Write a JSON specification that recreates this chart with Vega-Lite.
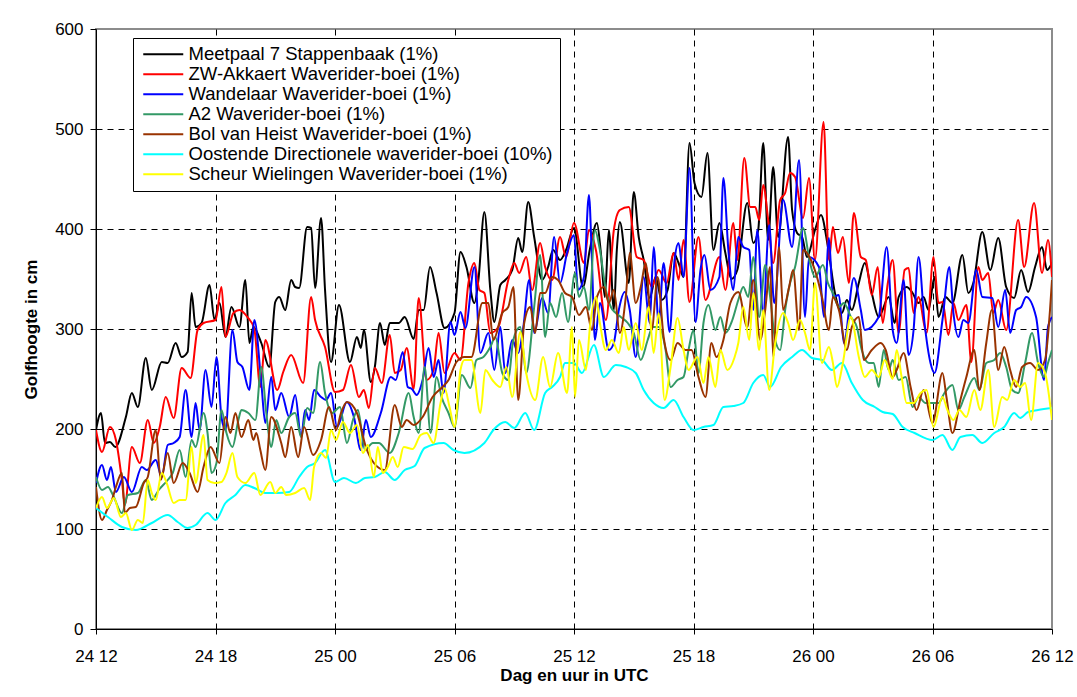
{
"$schema":"https://vega.github.io/schema/vega-lite/v6.json",
"width":956,"height":600,
"autosize":{"type":"none"},
"padding":{"left":96,"top":29,"right":25,"bottom":68},
"background":"white",
"config":{"view":{"stroke":"#8c8c8c","strokeWidth":2},"font":"Liberation Sans"},
"datasets":{"names":[
{"k":"A","name":"Meetpaal 7 Stappenbaak (1%)"},
{"k":"B","name":"ZW-Akkaert Waverider-boei (1%)"},
{"k":"C","name":"Wandelaar Waverider-boei (1%)"},
{"k":"D","name":"A2 Waverider-boei (1%)"},
{"k":"E","name":"Bol van Heist Waverider-boei (1%)"},
{"k":"F","name":"Oostende Directionele waverider-boei (10%)"},
{"k":"G","name":"Scheur Wielingen Waverider-boei (1%)"}
]},
"data":{"values":[
{"k":"A","h":0,"v":199},{"k":"A","h":0.25,"v":216},{"k":"A","h":0.45,"v":186},{"k":"A","h":0.7,"v":187},{"k":"A","h":0.97,"v":182},{"k":"A","h":1.5,"v":212},{"k":"A","h":1.8,"v":236},{"k":"A","h":2.1,"v":222},{"k":"A","h":2.5,"v":271},{"k":"A","h":2.8,"v":239},{"k":"A","h":3.3,"v":267},{"k":"A","h":3.6,"v":266},{"k":"A","h":4.0,"v":286},{"k":"A","h":4.3,"v":272},{"k":"A","h":4.6,"v":277},{"k":"A","h":4.8,"v":336},{"k":"A","h":5.0,"v":302},{"k":"A","h":5.3,"v":306},{"k":"A","h":5.7,"v":344},{"k":"A","h":5.95,"v":309},{"k":"A","h":6.2,"v":326},{"k":"A","h":6.5,"v":292},{"k":"A","h":6.8,"v":322},{"k":"A","h":7.2,"v":302},{"k":"A","h":7.5,"v":349},{"k":"A","h":7.7,"v":286},{"k":"A","h":7.9,"v":302},{"k":"A","h":8.3,"v":286},{"k":"A","h":8.7,"v":262},{"k":"A","h":9.0,"v":327},{"k":"A","h":9.2,"v":332},{"k":"A","h":9.5,"v":319},{"k":"A","h":9.8,"v":349},{"k":"A","h":10.0,"v":342},{"k":"A","h":10.2,"v":341},{"k":"A","h":10.6,"v":402},{"k":"A","h":10.8,"v":401},{"k":"A","h":11.0,"v":341},{"k":"A","h":11.3,"v":411},{"k":"A","h":11.5,"v":339},{"k":"A","h":11.8,"v":267},{"k":"A","h":12.2,"v":324},{"k":"A","h":12.75,"v":267},{"k":"A","h":13.1,"v":292},{"k":"A","h":13.3,"v":281},{"k":"A","h":13.45,"v":299},{"k":"A","h":13.8,"v":247},{"k":"A","h":14.0,"v":262},{"k":"A","h":14.26,"v":306},{"k":"A","h":14.5,"v":284},{"k":"A","h":14.75,"v":306},{"k":"A","h":15.2,"v":306},{"k":"A","h":15.5,"v":312},{"k":"A","h":15.95,"v":290},{"k":"A","h":16.2,"v":319},{"k":"A","h":16.45,"v":319},{"k":"A","h":16.77,"v":362},{"k":"A","h":17.1,"v":336},{"k":"A","h":17.5,"v":301},{"k":"A","h":18.0,"v":316},{"k":"A","h":18.3,"v":377},{"k":"A","h":18.6,"v":362},{"k":"A","h":19.0,"v":326},{"k":"A","h":19.2,"v":349},{"k":"A","h":19.5,"v":417},{"k":"A","h":19.8,"v":339},{"k":"A","h":20.0,"v":307},{"k":"A","h":20.3,"v":344},{"k":"A","h":20.55,"v":349},{"k":"A","h":20.9,"v":359},{"k":"A","h":21.2,"v":391},{"k":"A","h":21.4,"v":377},{"k":"A","h":21.7,"v":427},{"k":"A","h":22.0,"v":392},{"k":"A","h":22.4,"v":349},{"k":"A","h":22.7,"v":362},{"k":"A","h":22.95,"v":379},{"k":"A","h":23.3,"v":369},{"k":"A","h":23.6,"v":379},{"k":"A","h":24.0,"v":401},{"k":"A","h":24.45,"v":342},{"k":"A","h":24.8,"v":380},{"k":"A","h":25.15,"v":406},{"k":"A","h":25.35,"v":376},{"k":"A","h":25.55,"v":332},{"k":"A","h":25.75,"v":399},{"k":"A","h":26.0,"v":319},{"k":"A","h":26.15,"v":379},{"k":"A","h":26.3,"v":407},{"k":"A","h":26.75,"v":346},{"k":"A","h":27.0,"v":437},{"k":"A","h":27.25,"v":392},{"k":"A","h":27.5,"v":369},{"k":"A","h":27.8,"v":331},{"k":"A","h":28.1,"v":352},{"k":"A","h":28.4,"v":329},{"k":"A","h":28.7,"v":339},{"k":"A","h":29.0,"v":376},{"k":"A","h":29.25,"v":366},{"k":"A","h":29.5,"v":352},{"k":"A","h":29.8,"v":486},{"k":"A","h":30.05,"v":446},{"k":"A","h":30.4,"v":432},{"k":"A","h":30.7,"v":476},{"k":"A","h":31.0,"v":379},{"k":"A","h":31.3,"v":406},{"k":"A","h":31.6,"v":376},{"k":"A","h":31.9,"v":350},{"k":"A","h":32.2,"v":359},{"k":"A","h":32.7,"v":426},{"k":"A","h":33.0,"v":386},{"k":"A","h":33.25,"v":399},{"k":"A","h":33.5,"v":486},{"k":"A","h":33.75,"v":389},{"k":"A","h":34.0,"v":462},{"k":"A","h":34.25,"v":392},{"k":"A","h":34.75,"v":492},{"k":"A","h":34.95,"v":419},{"k":"A","h":35.2,"v":396},{"k":"A","h":35.45,"v":392},{"k":"A","h":35.7,"v":372},{"k":"A","h":36.1,"v":399},{"k":"A","h":36.4,"v":414},{"k":"A","h":36.75,"v":382},{"k":"A","h":37.1,"v":336},{"k":"A","h":37.45,"v":316},{"k":"A","h":37.7,"v":329},{"k":"A","h":37.95,"v":319},{"k":"A","h":38.3,"v":346},{"k":"A","h":38.6,"v":366},{"k":"A","h":38.95,"v":336},{"k":"A","h":39.3,"v":312},{"k":"A","h":39.8,"v":332},{"k":"A","h":40.1,"v":306},{"k":"A","h":40.3,"v":332},{"k":"A","h":40.7,"v":342},{"k":"A","h":41.0,"v":336},{"k":"A","h":41.3,"v":326},{"k":"A","h":41.55,"v":332},{"k":"A","h":41.8,"v":319},{"k":"A","h":42.1,"v":352},{"k":"A","h":42.3,"v":312},{"k":"A","h":42.65,"v":332},{"k":"A","h":43.0,"v":326},{"k":"A","h":43.5,"v":374},{"k":"A","h":43.8,"v":336},{"k":"A","h":44.05,"v":346},{"k":"A","h":44.5,"v":397},{"k":"A","h":44.9,"v":359},{"k":"A","h":45.3,"v":391},{"k":"A","h":45.7,"v":342},{"k":"A","h":46.1,"v":331},{"k":"A","h":46.45,"v":359},{"k":"A","h":46.8,"v":337},{"k":"A","h":47.15,"v":362},{"k":"A","h":47.5,"v":382},{"k":"A","h":47.75,"v":359},{"k":"A","h":48.0,"v":366},
{"k":"B","h":0,"v":199},{"k":"B","h":0.3,"v":177},{"k":"B","h":0.7,"v":202},{"k":"B","h":1.0,"v":189},{"k":"B","h":1.3,"v":149},{"k":"B","h":1.45,"v":124},{"k":"B","h":1.8,"v":182},{"k":"B","h":2.2,"v":166},{"k":"B","h":2.6,"v":209},{"k":"B","h":2.9,"v":186},{"k":"B","h":3.2,"v":202},{"k":"B","h":3.5,"v":232},{"k":"B","h":3.9,"v":211},{"k":"B","h":4.3,"v":261},{"k":"B","h":4.75,"v":251},{"k":"B","h":5.1,"v":299},{"k":"B","h":5.4,"v":306},{"k":"B","h":6.0,"v":309},{"k":"B","h":6.3,"v":342},{"k":"B","h":6.5,"v":292},{"k":"B","h":6.9,"v":316},{"k":"B","h":7.2,"v":319},{"k":"B","h":7.6,"v":312},{"k":"B","h":7.95,"v":300},{"k":"B","h":8.25,"v":242},{"k":"B","h":8.5,"v":289},{"k":"B","h":9.1,"v":239},{"k":"B","h":9.4,"v":257},{"k":"B","h":9.8,"v":274},{"k":"B","h":10.4,"v":246},{"k":"B","h":10.8,"v":332},{"k":"B","h":11.0,"v":309},{"k":"B","h":11.5,"v":282},{"k":"B","h":12.0,"v":237},{"k":"B","h":12.4,"v":239},{"k":"B","h":12.8,"v":264},{"k":"B","h":13.2,"v":232},{"k":"B","h":13.45,"v":239},{"k":"B","h":13.7,"v":221},{"k":"B","h":14.0,"v":261},{"k":"B","h":14.35,"v":246},{"k":"B","h":14.75,"v":294},{"k":"B","h":15.0,"v":256},{"k":"B","h":15.3,"v":259},{"k":"B","h":15.6,"v":281},{"k":"B","h":15.95,"v":240},{"k":"B","h":16.2,"v":331},{"k":"B","h":16.6,"v":249},{"k":"B","h":16.95,"v":259},{"k":"B","h":17.2,"v":296},{"k":"B","h":17.5,"v":256},{"k":"B","h":18.0,"v":276},{"k":"B","h":18.3,"v":269},{"k":"B","h":18.7,"v":346},{"k":"B","h":19.0,"v":366},{"k":"B","h":19.25,"v":339},{"k":"B","h":19.5,"v":336},{"k":"B","h":19.8,"v":296},{"k":"B","h":20.2,"v":302},{"k":"B","h":20.7,"v":349},{"k":"B","h":21.0,"v":366},{"k":"B","h":21.25,"v":356},{"k":"B","h":21.6,"v":372},{"k":"B","h":21.9,"v":339},{"k":"B","h":22.3,"v":386},{"k":"B","h":22.55,"v":362},{"k":"B","h":22.9,"v":349},{"k":"B","h":23.3,"v":392},{"k":"B","h":23.6,"v":372},{"k":"B","h":24.0,"v":406},{"k":"B","h":24.5,"v":366},{"k":"B","h":24.75,"v":399},{"k":"B","h":25.1,"v":379},{"k":"B","h":25.6,"v":309},{"k":"B","h":26.0,"v":399},{"k":"B","h":26.3,"v":419},{"k":"B","h":26.75,"v":422},{"k":"B","h":27.15,"v":372},{"k":"B","h":27.5,"v":369},{"k":"B","h":27.9,"v":342},{"k":"B","h":28.25,"v":359},{"k":"B","h":28.65,"v":346},{"k":"B","h":29.0,"v":376},{"k":"B","h":29.25,"v":349},{"k":"B","h":29.5,"v":389},{"k":"B","h":29.8,"v":327},{"k":"B","h":30.25,"v":392},{"k":"B","h":30.6,"v":329},{"k":"B","h":31.3,"v":372},{"k":"B","h":31.6,"v":339},{"k":"B","h":32.0,"v":406},{"k":"B","h":32.2,"v":369},{"k":"B","h":32.55,"v":471},{"k":"B","h":32.85,"v":422},{"k":"B","h":33.1,"v":422},{"k":"B","h":33.3,"v":409},{"k":"B","h":33.5,"v":444},{"k":"B","h":33.75,"v":409},{"k":"B","h":34.0,"v":366},{"k":"B","h":34.35,"v":429},{"k":"B","h":34.6,"v":436},{"k":"B","h":34.85,"v":456},{"k":"B","h":35.1,"v":452},{"k":"B","h":35.5,"v":411},{"k":"B","h":35.8,"v":451},{"k":"B","h":36.1,"v":369},{"k":"B","h":36.53,"v":507},{"k":"B","h":36.8,"v":369},{"k":"B","h":37.0,"v":402},{"k":"B","h":37.25,"v":376},{"k":"B","h":37.5,"v":392},{"k":"B","h":37.8,"v":346},{"k":"B","h":38.05,"v":416},{"k":"B","h":38.4,"v":372},{"k":"B","h":38.65,"v":369},{"k":"B","h":38.95,"v":334},{"k":"B","h":39.25,"v":362},{"k":"B","h":39.5,"v":306},{"k":"B","h":39.75,"v":345},{"k":"B","h":40.0,"v":369},{"k":"B","h":40.3,"v":296},{"k":"B","h":40.6,"v":359},{"k":"B","h":40.8,"v":361},{"k":"B","h":41.05,"v":316},{"k":"B","h":41.3,"v":332},{"k":"B","h":41.7,"v":296},{"k":"B","h":42.05,"v":372},{"k":"B","h":42.3,"v":326},{"k":"B","h":42.5,"v":327},{"k":"B","h":42.8,"v":294},{"k":"B","h":43.05,"v":326},{"k":"B","h":43.3,"v":309},{"k":"B","h":43.7,"v":324},{"k":"B","h":43.95,"v":267},{"k":"B","h":44.3,"v":362},{"k":"B","h":44.5,"v":349},{"k":"B","h":44.8,"v":356},{"k":"B","h":45.05,"v":316},{"k":"B","h":45.3,"v":329},{"k":"B","h":45.7,"v":299},{"k":"B","h":46.3,"v":409},{"k":"B","h":46.6,"v":362},{"k":"B","h":47.1,"v":426},{"k":"B","h":47.5,"v":356},{"k":"B","h":47.8,"v":389},{"k":"B","h":48.0,"v":352},
{"k":"C","h":0,"v":146},{"k":"C","h":0.3,"v":164},{"k":"C","h":0.55,"v":149},{"k":"C","h":0.75,"v":162},{"k":"C","h":1.0,"v":137},{"k":"C","h":1.4,"v":152},{"k":"C","h":1.8,"v":137},{"k":"C","h":2.3,"v":162},{"k":"C","h":2.55,"v":159},{"k":"C","h":3.0,"v":169},{"k":"C","h":3.3,"v":152},{"k":"C","h":3.6,"v":184},{"k":"C","h":3.9,"v":186},{"k":"C","h":4.2,"v":192},{"k":"C","h":4.5,"v":239},{"k":"C","h":4.8,"v":192},{"k":"C","h":5.0,"v":226},{"k":"C","h":5.2,"v":199},{"k":"C","h":5.5,"v":259},{"k":"C","h":5.8,"v":222},{"k":"C","h":6.05,"v":272},{"k":"C","h":6.3,"v":212},{"k":"C","h":6.5,"v":199},{"k":"C","h":6.85,"v":299},{"k":"C","h":7.1,"v":267},{"k":"C","h":7.35,"v":262},{"k":"C","h":7.7,"v":239},{"k":"C","h":7.95,"v":309},{"k":"C","h":8.3,"v":246},{"k":"C","h":8.5,"v":206},{"k":"C","h":8.8,"v":252},{"k":"C","h":9.0,"v":219},{"k":"C","h":9.3,"v":236},{"k":"C","h":9.7,"v":212},{"k":"C","h":10.0,"v":234},{"k":"C","h":10.3,"v":192},{"k":"C","h":10.5,"v":219},{"k":"C","h":10.7,"v":209},{"k":"C","h":10.95,"v":239},{"k":"C","h":11.3,"v":232},{"k":"C","h":11.55,"v":229},{"k":"C","h":11.8,"v":236},{"k":"C","h":12.1,"v":202},{"k":"C","h":12.6,"v":227},{"k":"C","h":12.95,"v":212},{"k":"C","h":13.3,"v":179},{"k":"C","h":13.55,"v":209},{"k":"C","h":13.8,"v":192},{"k":"C","h":14.3,"v":216},{"k":"C","h":14.8,"v":252},{"k":"C","h":15.05,"v":249},{"k":"C","h":15.4,"v":277},{"k":"C","h":15.65,"v":242},{"k":"C","h":15.86,"v":240},{"k":"C","h":16.1,"v":234},{"k":"C","h":16.4,"v":249},{"k":"C","h":16.7,"v":281},{"k":"C","h":16.95,"v":252},{"k":"C","h":17.2,"v":269},{"k":"C","h":17.45,"v":236},{"k":"C","h":17.8,"v":307},{"k":"C","h":18.0,"v":294},{"k":"C","h":18.3,"v":317},{"k":"C","h":18.55,"v":301},{"k":"C","h":19.0,"v":362},{"k":"C","h":19.3,"v":276},{"k":"C","h":19.7,"v":296},{"k":"C","h":20.0,"v":259},{"k":"C","h":20.3,"v":302},{"k":"C","h":20.55,"v":256},{"k":"C","h":20.9,"v":289},{"k":"C","h":21.2,"v":276},{"k":"C","h":21.45,"v":301},{"k":"C","h":21.75,"v":349},{"k":"C","h":22.0,"v":296},{"k":"C","h":22.4,"v":331},{"k":"C","h":22.7,"v":316},{"k":"C","h":23.0,"v":392},{"k":"C","h":23.3,"v":346},{"k":"C","h":23.65,"v":376},{"k":"C","h":24.0,"v":394},{"k":"C","h":24.2,"v":339},{"k":"C","h":24.5,"v":352},{"k":"C","h":24.75,"v":434},{"k":"C","h":24.9,"v":369},{"k":"C","h":25.05,"v":289},{"k":"C","h":25.3,"v":326},{"k":"C","h":25.75,"v":279},{"k":"C","h":26.0,"v":286},{"k":"C","h":26.25,"v":319},{"k":"C","h":26.55,"v":337},{"k":"C","h":26.8,"v":319},{"k":"C","h":27.1,"v":272},{"k":"C","h":27.5,"v":352},{"k":"C","h":27.8,"v":306},{"k":"C","h":28.0,"v":382},{"k":"C","h":28.25,"v":306},{"k":"C","h":28.5,"v":366},{"k":"C","h":28.8,"v":297},{"k":"C","h":29.05,"v":369},{"k":"C","h":29.25,"v":386},{"k":"C","h":29.5,"v":352},{"k":"C","h":29.8,"v":461},{"k":"C","h":30.1,"v":307},{"k":"C","h":30.35,"v":359},{"k":"C","h":30.55,"v":374},{"k":"C","h":30.85,"v":339},{"k":"C","h":31.3,"v":352},{"k":"C","h":31.5,"v":451},{"k":"C","h":31.75,"v":379},{"k":"C","h":32.0,"v":339},{"k":"C","h":32.25,"v":392},{"k":"C","h":32.5,"v":382},{"k":"C","h":32.8,"v":379},{"k":"C","h":33.0,"v":319},{"k":"C","h":33.2,"v":399},{"k":"C","h":33.5,"v":316},{"k":"C","h":33.8,"v":404},{"k":"C","h":34.05,"v":326},{"k":"C","h":34.5,"v":429},{"k":"C","h":34.95,"v":382},{"k":"C","h":35.3,"v":469},{"k":"C","h":35.6,"v":312},{"k":"C","h":35.8,"v":372},{"k":"C","h":36.3,"v":362},{"k":"C","h":36.55,"v":312},{"k":"C","h":36.8,"v":391},{"k":"C","h":37.0,"v":332},{"k":"C","h":37.3,"v":334},{"k":"C","h":37.55,"v":286},{"k":"C","h":38.05,"v":351},{"k":"C","h":38.4,"v":319},{"k":"C","h":38.6,"v":299},{"k":"C","h":39.3,"v":312},{"k":"C","h":39.7,"v":382},{"k":"C","h":40.0,"v":299},{"k":"C","h":40.2,"v":286},{"k":"C","h":40.55,"v":349},{"k":"C","h":40.8,"v":274},{"k":"C","h":41.05,"v":299},{"k":"C","h":41.3,"v":372},{"k":"C","h":41.6,"v":306},{"k":"C","h":41.9,"v":266},{"k":"C","h":42.1,"v":256},{"k":"C","h":42.5,"v":309},{"k":"C","h":42.85,"v":362},{"k":"C","h":43.05,"v":316},{"k":"C","h":43.3,"v":292},{"k":"C","h":43.55,"v":309},{"k":"C","h":43.8,"v":306},{"k":"C","h":44.2,"v":359},{"k":"C","h":44.5,"v":332},{"k":"C","h":45.0,"v":331},{"k":"C","h":45.3,"v":302},{"k":"C","h":45.65,"v":339},{"k":"C","h":45.9,"v":296},{"k":"C","h":46.2,"v":319},{"k":"C","h":46.45,"v":322},{"k":"C","h":46.7,"v":332},{"k":"C","h":47.2,"v":312},{"k":"C","h":47.6,"v":249},{"k":"C","h":47.8,"v":302},{"k":"C","h":48.0,"v":312},
{"k":"D","h":0,"v":152},{"k":"D","h":0.3,"v":139},{"k":"D","h":0.6,"v":142},{"k":"D","h":0.85,"v":134},{"k":"D","h":1.3,"v":116},{"k":"D","h":1.6,"v":134},{"k":"D","h":2.1,"v":136},{"k":"D","h":2.5,"v":149},{"k":"D","h":2.8,"v":129},{"k":"D","h":3.15,"v":139},{"k":"D","h":3.6,"v":149},{"k":"D","h":3.85,"v":156},{"k":"D","h":4.2,"v":179},{"k":"D","h":4.5,"v":152},{"k":"D","h":4.8,"v":189},{"k":"D","h":5.0,"v":182},{"k":"D","h":5.4,"v":216},{"k":"D","h":5.6,"v":196},{"k":"D","h":5.8,"v":156},{"k":"D","h":6.05,"v":166},{"k":"D","h":6.3,"v":219},{"k":"D","h":6.55,"v":196},{"k":"D","h":6.85,"v":182},{"k":"D","h":7.15,"v":209},{"k":"D","h":7.3,"v":219},{"k":"D","h":7.65,"v":216},{"k":"D","h":8.0,"v":209},{"k":"D","h":8.3,"v":262},{"k":"D","h":8.55,"v":216},{"k":"D","h":8.8,"v":182},{"k":"D","h":9.05,"v":209},{"k":"D","h":9.3,"v":196},{"k":"D","h":9.7,"v":212},{"k":"D","h":10.0,"v":216},{"k":"D","h":10.3,"v":192},{"k":"D","h":10.6,"v":221},{"k":"D","h":10.9,"v":216},{"k":"D","h":11.25,"v":267},{"k":"D","h":11.5,"v":236},{"k":"D","h":11.85,"v":216},{"k":"D","h":12.25,"v":222},{"k":"D","h":12.6,"v":186},{"k":"D","h":12.9,"v":209},{"k":"D","h":13.15,"v":219},{"k":"D","h":13.5,"v":179},{"k":"D","h":13.9,"v":186},{"k":"D","h":14.2,"v":186},{"k":"D","h":14.75,"v":176},{"k":"D","h":15.2,"v":196},{"k":"D","h":15.7,"v":236},{"k":"D","h":15.95,"v":212},{"k":"D","h":16.2,"v":196},{"k":"D","h":16.5,"v":262},{"k":"D","h":16.8,"v":196},{"k":"D","h":17.1,"v":252},{"k":"D","h":17.35,"v":232},{"k":"D","h":17.7,"v":216},{"k":"D","h":18.0,"v":202},{"k":"D","h":18.37,"v":254},{"k":"D","h":18.8,"v":241},{"k":"D","h":19.1,"v":269},{"k":"D","h":19.45,"v":272},{"k":"D","h":19.8,"v":282},{"k":"D","h":20.05,"v":292},{"k":"D","h":20.4,"v":256},{"k":"D","h":20.7,"v":249},{"k":"D","h":20.95,"v":289},{"k":"D","h":21.3,"v":302},{"k":"D","h":21.6,"v":256},{"k":"D","h":22.0,"v":322},{"k":"D","h":22.3,"v":374},{"k":"D","h":22.55,"v":292},{"k":"D","h":22.8,"v":326},{"k":"D","h":23.1,"v":312},{"k":"D","h":23.4,"v":336},{"k":"D","h":23.7,"v":307},{"k":"D","h":24.05,"v":356},{"k":"D","h":24.25,"v":332},{"k":"D","h":24.5,"v":342},{"k":"D","h":24.75,"v":319},{"k":"D","h":25.05,"v":399},{"k":"D","h":25.3,"v":379},{"k":"D","h":25.6,"v":339},{"k":"D","h":25.85,"v":322},{"k":"D","h":26.1,"v":316},{"k":"D","h":26.35,"v":312},{"k":"D","h":26.7,"v":306},{"k":"D","h":27.0,"v":296},{"k":"D","h":27.35,"v":269},{"k":"D","h":27.7,"v":289},{"k":"D","h":27.95,"v":302},{"k":"D","h":28.25,"v":302},{"k":"D","h":28.6,"v":279},{"k":"D","h":28.85,"v":242},{"k":"D","h":29.2,"v":249},{"k":"D","h":29.5,"v":252},{"k":"D","h":29.75,"v":279},{"k":"D","h":30.0,"v":299},{"k":"D","h":30.25,"v":256},{"k":"D","h":30.5,"v":306},{"k":"D","h":30.75,"v":324},{"k":"D","h":31.1,"v":299},{"k":"D","h":31.35,"v":312},{"k":"D","h":31.6,"v":296},{"k":"D","h":31.95,"v":309},{"k":"D","h":32.25,"v":329},{"k":"D","h":32.5,"v":342},{"k":"D","h":32.75,"v":332},{"k":"D","h":33.0,"v":372},{"k":"D","h":33.3,"v":312},{"k":"D","h":33.6,"v":364},{"k":"D","h":33.85,"v":332},{"k":"D","h":34.1,"v":289},{"k":"D","h":34.35,"v":279},{"k":"D","h":34.6,"v":319},{"k":"D","h":34.85,"v":346},{"k":"D","h":35.1,"v":362},{"k":"D","h":35.5,"v":401},{"k":"D","h":35.85,"v":366},{"k":"D","h":36.1,"v":352},{"k":"D","h":36.5,"v":364},{"k":"D","h":36.75,"v":346},{"k":"D","h":37.0,"v":336},{"k":"D","h":37.3,"v":322},{"k":"D","h":37.55,"v":326},{"k":"D","h":37.9,"v":312},{"k":"D","h":38.2,"v":302},{"k":"D","h":38.45,"v":279},{"k":"D","h":38.8,"v":266},{"k":"D","h":39.05,"v":266},{"k":"D","h":39.3,"v":242},{"k":"D","h":39.55,"v":279},{"k":"D","h":39.8,"v":259},{"k":"D","h":40.0,"v":269},{"k":"D","h":40.3,"v":249},{"k":"D","h":40.65,"v":252},{"k":"D","h":41.0,"v":222},{"k":"D","h":41.3,"v":232},{"k":"D","h":41.65,"v":226},{"k":"D","h":42.0,"v":226},{"k":"D","h":42.3,"v":226},{"k":"D","h":42.6,"v":236},{"k":"D","h":43.0,"v":244},{"k":"D","h":43.3,"v":219},{"k":"D","h":43.6,"v":232},{"k":"D","h":44.1,"v":251},{"k":"D","h":44.35,"v":239},{"k":"D","h":44.7,"v":266},{"k":"D","h":45.1,"v":269},{"k":"D","h":45.4,"v":276},{"k":"D","h":45.7,"v":262},{"k":"D","h":46.0,"v":239},{"k":"D","h":46.3,"v":236},{"k":"D","h":46.65,"v":266},{"k":"D","h":47.0,"v":296},{"k":"D","h":47.3,"v":266},{"k":"D","h":47.6,"v":252},{"k":"D","h":47.8,"v":266},{"k":"D","h":48.0,"v":279},
{"k":"E","h":0,"v":142},{"k":"E","h":0.3,"v":109},{"k":"E","h":0.55,"v":119},{"k":"E","h":0.8,"v":129},{"k":"E","h":1.0,"v":142},{"k":"E","h":1.3,"v":156},{"k":"E","h":1.45,"v":116},{"k":"E","h":1.7,"v":121},{"k":"E","h":2.0,"v":122},{"k":"E","h":2.4,"v":146},{"k":"E","h":2.6,"v":152},{"k":"E","h":3.0,"v":199},{"k":"E","h":3.25,"v":149},{"k":"E","h":3.6,"v":176},{"k":"E","h":3.9,"v":146},{"k":"E","h":4.35,"v":166},{"k":"E","h":4.7,"v":156},{"k":"E","h":5.1,"v":137},{"k":"E","h":5.4,"v":162},{"k":"E","h":5.75,"v":182},{"k":"E","h":6.2,"v":166},{"k":"E","h":6.5,"v":212},{"k":"E","h":6.75,"v":196},{"k":"E","h":7.0,"v":216},{"k":"E","h":7.3,"v":192},{"k":"E","h":7.65,"v":209},{"k":"E","h":7.9,"v":189},{"k":"E","h":8.05,"v":196},{"k":"E","h":8.25,"v":179},{"k":"E","h":8.5,"v":159},{"k":"E","h":8.8,"v":212},{"k":"E","h":9.3,"v":186},{"k":"E","h":9.5,"v":172},{"k":"E","h":9.8,"v":202},{"k":"E","h":10.15,"v":172},{"k":"E","h":10.45,"v":202},{"k":"E","h":10.9,"v":174},{"k":"E","h":11.3,"v":189},{"k":"E","h":11.7,"v":222},{"k":"E","h":12.05,"v":199},{"k":"E","h":12.3,"v":216},{"k":"E","h":12.6,"v":227},{"k":"E","h":13.1,"v":216},{"k":"E","h":13.55,"v":182},{"k":"E","h":13.95,"v":166},{"k":"E","h":14.5,"v":159},{"k":"E","h":15.0,"v":224},{"k":"E","h":15.35,"v":202},{"k":"E","h":15.6,"v":209},{"k":"E","h":15.95,"v":204},{"k":"E","h":16.4,"v":212},{"k":"E","h":16.9,"v":232},{"k":"E","h":17.4,"v":242},{"k":"E","h":17.7,"v":249},{"k":"E","h":18.1,"v":267},{"k":"E","h":18.5,"v":272},{"k":"E","h":18.85,"v":272},{"k":"E","h":19.4,"v":326},{"k":"E","h":19.7,"v":326},{"k":"E","h":19.95,"v":289},{"k":"E","h":20.4,"v":316},{"k":"E","h":20.7,"v":322},{"k":"E","h":20.96,"v":342},{"k":"E","h":21.2,"v":229},{"k":"E","h":21.5,"v":306},{"k":"E","h":21.8,"v":322},{"k":"E","h":22.05,"v":296},{"k":"E","h":22.3,"v":336},{"k":"E","h":22.55,"v":336},{"k":"E","h":22.9,"v":352},{"k":"E","h":23.2,"v":349},{"k":"E","h":23.55,"v":336},{"k":"E","h":23.9,"v":332},{"k":"E","h":24.25,"v":314},{"k":"E","h":24.6,"v":322},{"k":"E","h":24.9,"v":299},{"k":"E","h":25.15,"v":332},{"k":"E","h":25.5,"v":342},{"k":"E","h":25.75,"v":326},{"k":"E","h":26.0,"v":339},{"k":"E","h":26.3,"v":296},{"k":"E","h":26.6,"v":332},{"k":"E","h":26.8,"v":376},{"k":"E","h":27.1,"v":326},{"k":"E","h":27.35,"v":342},{"k":"E","h":27.6,"v":366},{"k":"E","h":27.9,"v":299},{"k":"E","h":28.2,"v":352},{"k":"E","h":28.5,"v":292},{"k":"E","h":28.85,"v":269},{"k":"E","h":29.2,"v":286},{"k":"E","h":29.6,"v":279},{"k":"E","h":29.9,"v":279},{"k":"E","h":30.25,"v":252},{"k":"E","h":30.6,"v":232},{"k":"E","h":30.9,"v":286},{"k":"E","h":31.15,"v":272},{"k":"E","h":31.5,"v":289},{"k":"E","h":31.85,"v":326},{"k":"E","h":32.25,"v":337},{"k":"E","h":32.7,"v":302},{"k":"E","h":33.0,"v":349},{"k":"E","h":33.35,"v":289},{"k":"E","h":33.6,"v":319},{"k":"E","h":33.85,"v":362},{"k":"E","h":34.0,"v":272},{"k":"E","h":34.3,"v":382},{"k":"E","h":34.5,"v":319},{"k":"E","h":34.8,"v":342},{"k":"E","h":35.0,"v":359},{"k":"E","h":35.3,"v":299},{"k":"E","h":35.5,"v":379},{"k":"E","h":35.85,"v":371},{"k":"E","h":36.2,"v":352},{"k":"E","h":36.45,"v":332},{"k":"E","h":36.8,"v":299},{"k":"E","h":37.0,"v":332},{"k":"E","h":37.3,"v":319},{"k":"E","h":37.7,"v":279},{"k":"E","h":37.95,"v":302},{"k":"E","h":38.3,"v":312},{"k":"E","h":38.55,"v":269},{"k":"E","h":38.95,"v":279},{"k":"E","h":39.4,"v":286},{"k":"E","h":39.65,"v":279},{"k":"E","h":40.0,"v":252},{"k":"E","h":40.2,"v":259},{"k":"E","h":40.55,"v":276},{"k":"E","h":40.9,"v":242},{"k":"E","h":41.2,"v":219},{"k":"E","h":41.55,"v":239},{"k":"E","h":42.0,"v":206},{"k":"E","h":42.5,"v":256},{"k":"E","h":42.7,"v":232},{"k":"E","h":43.0,"v":196},{"k":"E","h":43.4,"v":229},{"k":"E","h":43.7,"v":252},{"k":"E","h":44.1,"v":279},{"k":"E","h":44.35,"v":239},{"k":"E","h":44.7,"v":286},{"k":"E","h":44.98,"v":319},{"k":"E","h":45.3,"v":259},{"k":"E","h":45.6,"v":282},{"k":"E","h":45.9,"v":259},{"k":"E","h":46.2,"v":242},{"k":"E","h":46.5,"v":262},{"k":"E","h":46.9,"v":266},{"k":"E","h":47.3,"v":259},{"k":"E","h":47.65,"v":269},{"k":"E","h":47.9,"v":319},{"k":"E","h":48.0,"v":349},
{"k":"F","h":0,"v":121},{"k":"F","h":0.6,"v":112},{"k":"F","h":1.3,"v":102},{"k":"F","h":2.0,"v":99},{"k":"F","h":2.8,"v":106},{"k":"F","h":3.6,"v":114},{"k":"F","h":4.1,"v":107},{"k":"F","h":4.6,"v":101},{"k":"F","h":5.0,"v":104},{"k":"F","h":5.6,"v":116},{"k":"F","h":6.0,"v":109},{"k":"F","h":6.5,"v":126},{"k":"F","h":7.0,"v":134},{"k":"F","h":7.5,"v":144},{"k":"F","h":7.95,"v":141},{"k":"F","h":8.5,"v":136},{"k":"F","h":9.1,"v":136},{"k":"F","h":9.7,"v":137},{"k":"F","h":10.2,"v":152},{"k":"F","h":10.6,"v":162},{"k":"F","h":11.0,"v":166},{"k":"F","h":11.5,"v":179},{"k":"F","h":12.0,"v":147},{"k":"F","h":12.45,"v":151},{"k":"F","h":13.05,"v":146},{"k":"F","h":13.5,"v":151},{"k":"F","h":14.0,"v":152},{"k":"F","h":14.5,"v":157},{"k":"F","h":15.0,"v":149},{"k":"F","h":15.5,"v":159},{"k":"F","h":16.0,"v":163},{"k":"F","h":16.5,"v":181},{"k":"F","h":17.45,"v":186},{"k":"F","h":17.95,"v":179},{"k":"F","h":18.5,"v":176},{"k":"F","h":19.5,"v":186},{"k":"F","h":19.95,"v":199},{"k":"F","h":20.55,"v":207},{"k":"F","h":21.0,"v":201},{"k":"F","h":21.55,"v":216},{"k":"F","h":22.0,"v":199},{"k":"F","h":22.55,"v":236},{"k":"F","h":22.9,"v":242},{"k":"F","h":23.3,"v":252},{"k":"F","h":23.55,"v":266},{"k":"F","h":24.0,"v":266},{"k":"F","h":24.4,"v":256},{"k":"F","h":25.0,"v":284},{"k":"F","h":25.5,"v":252},{"k":"F","h":26.1,"v":264},{"k":"F","h":26.6,"v":262},{"k":"F","h":27.1,"v":256},{"k":"F","h":27.5,"v":239},{"k":"F","h":28.0,"v":226},{"k":"F","h":28.5,"v":221},{"k":"F","h":29.0,"v":229},{"k":"F","h":29.5,"v":212},{"k":"F","h":30.0,"v":199},{"k":"F","h":30.5,"v":202},{"k":"F","h":31.0,"v":204},{"k":"F","h":31.5,"v":222},{"k":"F","h":32.0,"v":223},{"k":"F","h":32.5,"v":226},{"k":"F","h":33.0,"v":246},{"k":"F","h":33.5,"v":254},{"k":"F","h":33.85,"v":242},{"k":"F","h":34.4,"v":262},{"k":"F","h":34.95,"v":272},{"k":"F","h":35.45,"v":279},{"k":"F","h":35.95,"v":271},{"k":"F","h":36.45,"v":269},{"k":"F","h":36.95,"v":259},{"k":"F","h":37.45,"v":266},{"k":"F","h":37.95,"v":246},{"k":"F","h":38.5,"v":229},{"k":"F","h":39.1,"v":222},{"k":"F","h":39.5,"v":217},{"k":"F","h":40.0,"v":215},{"k":"F","h":40.5,"v":202},{"k":"F","h":41.1,"v":196},{"k":"F","h":42.0,"v":189},{"k":"F","h":42.5,"v":194},{"k":"F","h":43.0,"v":179},{"k":"F","h":43.4,"v":192},{"k":"F","h":44.0,"v":194},{"k":"F","h":44.5,"v":186},{"k":"F","h":45.1,"v":196},{"k":"F","h":45.6,"v":202},{"k":"F","h":46.1,"v":216},{"k":"F","h":46.4,"v":211},{"k":"F","h":46.8,"v":217},{"k":"F","h":47.3,"v":219},{"k":"F","h":48.0,"v":221},
{"k":"G","h":0,"v":121},{"k":"G","h":0.3,"v":132},{"k":"G","h":0.55,"v":121},{"k":"G","h":0.9,"v":131},{"k":"G","h":1.25,"v":112},{"k":"G","h":1.5,"v":116},{"k":"G","h":1.8,"v":99},{"k":"G","h":2.1,"v":109},{"k":"G","h":2.35,"v":106},{"k":"G","h":2.6,"v":149},{"k":"G","h":2.8,"v":136},{"k":"G","h":3.0,"v":129},{"k":"G","h":3.3,"v":156},{"k":"G","h":3.55,"v":146},{"k":"G","h":3.9,"v":126},{"k":"G","h":4.2,"v":129},{"k":"G","h":4.5,"v":129},{"k":"G","h":4.8,"v":182},{"k":"G","h":5.0,"v":146},{"k":"G","h":5.4,"v":194},{"k":"G","h":5.6,"v":149},{"k":"G","h":5.95,"v":146},{"k":"G","h":6.3,"v":147},{"k":"G","h":6.55,"v":156},{"k":"G","h":6.85,"v":176},{"k":"G","h":7.1,"v":152},{"k":"G","h":7.5,"v":146},{"k":"G","h":7.95,"v":156},{"k":"G","h":8.25,"v":134},{"k":"G","h":8.75,"v":147},{"k":"G","h":9.0,"v":136},{"k":"G","h":9.3,"v":142},{"k":"G","h":9.55,"v":134},{"k":"G","h":10.0,"v":136},{"k":"G","h":10.45,"v":141},{"k":"G","h":10.75,"v":129},{"k":"G","h":10.95,"v":162},{"k":"G","h":11.3,"v":176},{"k":"G","h":11.55,"v":171},{"k":"G","h":11.8,"v":199},{"k":"G","h":12.05,"v":189},{"k":"G","h":12.4,"v":207},{"k":"G","h":12.75,"v":196},{"k":"G","h":13.1,"v":204},{"k":"G","h":13.4,"v":176},{"k":"G","h":13.65,"v":184},{"k":"G","h":13.95,"v":152},{"k":"G","h":14.15,"v":182},{"k":"G","h":14.4,"v":156},{"k":"G","h":14.65,"v":162},{"k":"G","h":14.9,"v":172},{"k":"G","h":15.15,"v":162},{"k":"G","h":15.45,"v":182},{"k":"G","h":15.9,"v":180},{"k":"G","h":16.3,"v":194},{"k":"G","h":16.6,"v":196},{"k":"G","h":16.95,"v":186},{"k":"G","h":17.3,"v":226},{"k":"G","h":17.5,"v":241},{"k":"G","h":17.75,"v":222},{"k":"G","h":18.0,"v":202},{"k":"G","h":18.3,"v":259},{"k":"G","h":18.5,"v":269},{"k":"G","h":18.85,"v":269},{"k":"G","h":19.3,"v":216},{"k":"G","h":19.55,"v":259},{"k":"G","h":19.9,"v":249},{"k":"G","h":20.3,"v":242},{"k":"G","h":20.6,"v":262},{"k":"G","h":20.9,"v":232},{"k":"G","h":21.3,"v":297},{"k":"G","h":21.6,"v":256},{"k":"G","h":22.05,"v":229},{"k":"G","h":22.45,"v":272},{"k":"G","h":22.8,"v":242},{"k":"G","h":23.2,"v":276},{"k":"G","h":23.65,"v":236},{"k":"G","h":23.9,"v":302},{"k":"G","h":24.05,"v":232},{"k":"G","h":24.25,"v":289},{"k":"G","h":24.6,"v":259},{"k":"G","h":24.8,"v":302},{"k":"G","h":25.1,"v":332},{"k":"G","h":25.3,"v":306},{"k":"G","h":25.6,"v":279},{"k":"G","h":25.9,"v":289},{"k":"G","h":26.25,"v":276},{"k":"G","h":26.5,"v":302},{"k":"G","h":26.75,"v":279},{"k":"G","h":27.1,"v":306},{"k":"G","h":27.4,"v":279},{"k":"G","h":27.75,"v":322},{"k":"G","h":28.0,"v":276},{"k":"G","h":28.25,"v":316},{"k":"G","h":28.55,"v":229},{"k":"G","h":28.85,"v":262},{"k":"G","h":29.2,"v":311},{"k":"G","h":29.5,"v":279},{"k":"G","h":29.75,"v":259},{"k":"G","h":30.2,"v":272},{"k":"G","h":30.5,"v":246},{"k":"G","h":30.75,"v":272},{"k":"G","h":31.1,"v":242},{"k":"G","h":31.35,"v":279},{"k":"G","h":31.7,"v":259},{"k":"G","h":32.05,"v":271},{"k":"G","h":32.25,"v":286},{"k":"G","h":32.5,"v":322},{"k":"G","h":32.8,"v":289},{"k":"G","h":33.0,"v":336},{"k":"G","h":33.3,"v":279},{"k":"G","h":33.5,"v":319},{"k":"G","h":33.8,"v":239},{"k":"G","h":34.1,"v":286},{"k":"G","h":34.5,"v":316},{"k":"G","h":34.75,"v":306},{"k":"G","h":35.0,"v":289},{"k":"G","h":35.35,"v":309},{"k":"G","h":35.6,"v":296},{"k":"G","h":35.85,"v":279},{"k":"G","h":36.1,"v":346},{"k":"G","h":36.45,"v":266},{"k":"G","h":36.8,"v":282},{"k":"G","h":37.0,"v":266},{"k":"G","h":37.2,"v":242},{"k":"G","h":37.5,"v":266},{"k":"G","h":37.9,"v":312},{"k":"G","h":38.3,"v":272},{"k":"G","h":38.6,"v":252},{"k":"G","h":38.95,"v":259},{"k":"G","h":39.3,"v":252},{"k":"G","h":39.6,"v":269},{"k":"G","h":40.0,"v":250},{"k":"G","h":40.2,"v":279},{"k":"G","h":40.45,"v":252},{"k":"G","h":40.7,"v":226},{"k":"G","h":41.05,"v":226},{"k":"G","h":41.4,"v":236},{"k":"G","h":41.7,"v":239},{"k":"G","h":42.05,"v":202},{"k":"G","h":42.5,"v":232},{"k":"G","h":42.75,"v":219},{"k":"G","h":43.05,"v":209},{"k":"G","h":43.35,"v":219},{"k":"G","h":43.7,"v":212},{"k":"G","h":44.1,"v":239},{"k":"G","h":44.4,"v":219},{"k":"G","h":44.8,"v":259},{"k":"G","h":45.1,"v":202},{"k":"G","h":45.5,"v":232},{"k":"G","h":45.75,"v":229},{"k":"G","h":46.1,"v":249},{"k":"G","h":46.4,"v":242},{"k":"G","h":46.65,"v":246},{"k":"G","h":46.95,"v":209},{"k":"G","h":47.3,"v":266},{"k":"G","h":47.65,"v":256},{"k":"G","h":48.0,"v":209}
]},
"transform":[{"lookup":"k","from":{"data":{"name":"names"},"key":"k","fields":["name"]}}],
"mark":{"type":"line","interpolate":"monotone","strokeWidth":2,"clip":true},
"encoding":{
"x":{"field":"h","type":"quantitative","scale":{"domain":[0,48],"nice":false,"zero":false},
"axis":{"values":[0,6,12,18,24,30,36,42,48],"labelExpr":"format(24 + floor((datum.value + 12) / 24), 'd') + ' ' + format((datum.value + 12) % 24, '02d')","labelFlush":false,"labelOverlap":false,"labelFontSize":17,"labelColor":"black","labelPadding":14,"tickSize":5,"tickColor":"black","domainColor":"black","grid":true,"gridColor":"black","gridDash":[6,5],"gridOpacity":{"condition":{"test":"datum.value == 0 || datum.value == 48","value":0},"value":1},"title":"Dag en uur in UTC","titleFontSize":17,"titleFontWeight":"bold","titleColor":"black","titlePadding":3}},
"y":{"field":"v","type":"quantitative","scale":{"domain":[0,600],"nice":false},
"axis":{"values":[0,100,200,300,400,500,600],"labelFontSize":17,"labelColor":"black","labelPadding":7,"tickSize":6,"tickColor":"black","domainColor":"black","grid":true,"gridColor":"black","gridDash":[6,5],"gridOpacity":{"condition":{"test":"datum.value == 0 || datum.value == 600","value":0},"value":1},"title":"Golfhoogte in cm","titleFontSize":17,"titleFontWeight":"bold","titleColor":"black","titlePadding":14}},
"color":{"field":"name","type":"nominal",
"scale":{"domain":["Meetpaal 7 Stappenbaak (1%)","ZW-Akkaert Waverider-boei (1%)","Wandelaar Waverider-boei (1%)","A2 Waverider-boei (1%)","Bol van Heist Waverider-boei (1%)","Oostende Directionele waverider-boei (10%)","Scheur Wielingen Waverider-boei (1%)"],"range":["#000000","#ff0000","#0000ff","#339966","#993300","#00ffff","#ffff00"]},
"legend":{"orient":"none","legendX":37,"legendY":9,"title":null,"symbolType":"M-3,0H17","symbolSize":16,"symbolStrokeWidth":2,"labelFontSize":18.5,"labelColor":"black","labelOffset":30,"labelLimit":0,"strokeColor":"black","fillColor":"white","padding":7,"rowPadding":1}}
}
}
